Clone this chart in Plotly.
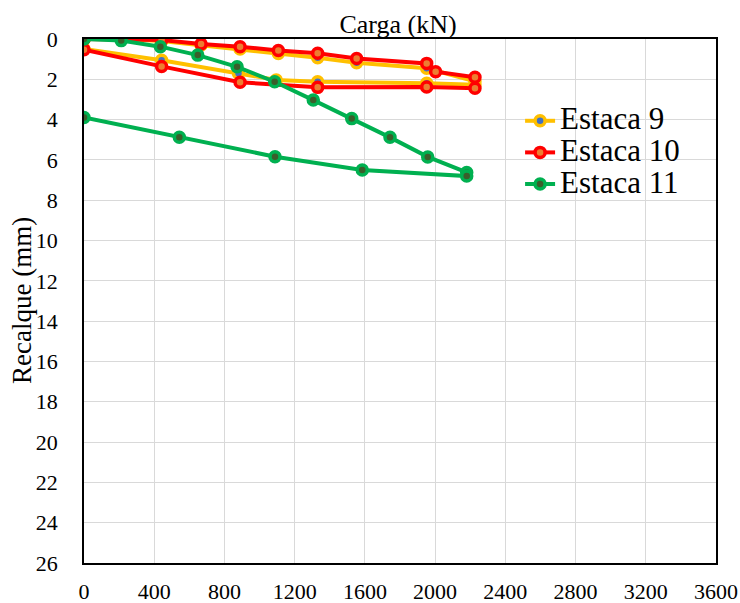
import plotly.graph_objects as go

# Estaca 9
carga_9 = [0, 215, 442, 667, 889, 1107, 1331, 1553, 1952, 2227, 2227, 1952, 1331, 1095, 880, 442, 0]
recalque_9 = [0, 0, 0.1, 0.3, 0.5, 0.72, 0.93, 1.18, 1.45, 2.1, 2.27, 2.2, 2.12, 2.03, 1.7, 1.05, 0.5]

# Estaca 10
carga_10 = [0, 442, 667, 889, 1107, 1331, 1553, 1952, 2003, 2227, 2227, 1952, 1331, 889, 442, 0]
recalque_10 = [0, 0.05, 0.25, 0.38, 0.57, 0.71, 0.97, 1.21, 1.62, 1.9, 2.44, 2.38, 2.4, 2.15, 1.36, 0.53]

# Estaca 11
carga_11 = [0, 212, 435, 648, 872, 1086, 1306, 1525, 1743, 1958, 2180, 2180, 1585, 1088, 543, 0]
recalque_11 = [0, 0.08, 0.38, 0.8, 1.38, 2.12, 3.03, 3.95, 4.88, 5.85, 6.62, 6.8, 6.5, 5.84, 4.88, 3.89]

series_names = ["Estaca 9", "Estaca 10", "Estaca 11"]
x_ticks = [0, 400, 800, 1200, 1600, 2000, 2400, 2800, 3200, 3600]
y_ticks = list(range(0, 27, 2))

FONT = "Liberation Serif, Times New Roman, serif"

styles = [
    dict(line="#FFC000", fill="#4472C4"),
    dict(line="#FF0000", fill="#ED7D31"),
    dict(line="#00B050", fill="#3B5E2B"),
]

fig = go.Figure()
for name, xs, ys, st in zip(series_names,
                            [carga_9, carga_10, carga_11],
                            [recalque_9, recalque_10, recalque_11],
                            styles):
    fig.add_trace(go.Scatter(
        x=xs, y=ys, name='<span style="font-size:31px">' + name + '</span>',
        mode="lines+markers",
        line=dict(color=st["line"], width=4),
        marker=dict(size=10, color=st["fill"], line=dict(color=st["line"], width=3.5)),
    ))

fig.update_layout(
    width=740, height=603,
    margin=dict(l=84, r=24, t=39, b=40),
    paper_bgcolor="white", plot_bgcolor="white",
    font=dict(family=FONT, color="black"),
    title=dict(text="Carga (kN)", x=398 / 740, xref="container", xanchor="center",
               y=1 - 24 / 603, yanchor="middle",
               font=dict(size=26, family=FONT, color="black")),
    legend=dict(x=0.69, y=0.8836, xanchor="left", yanchor="top",
                bgcolor="rgba(0,0,0,0)", font=dict(size=22, family=FONT),
                itemwidth=30, tracegroupgap=0),
    showlegend=True,
    annotations=[dict(text="Recalque (mm)", textangle=-90, xref="paper", yref="paper",
                      x=(22 - 84) / 632, y=(563 - 301) / 524, xanchor="center", yanchor="middle",
                      showarrow=False, font=dict(size=27, family=FONT, color="black"))],
)
fig.update_xaxes(range=[0, 3600], tickvals=x_ticks, ticktext=[str(v) for v in x_ticks],
                 showgrid=True, gridcolor="#D9D9D9", gridwidth=1,
                 showline=True, linecolor="black", linewidth=1.5, mirror=True,
                 ticks="", tickfont=dict(size=22, family=FONT), ticklabelstandoff=8,
                 zeroline=False, automargin=False)
fig.update_yaxes(range=[26, 0], tickvals=y_ticks, ticktext=[str(v) for v in y_ticks],
                 showgrid=True, gridcolor="#D9D9D9", gridwidth=1,
                 showline=True, linecolor="black", linewidth=1.5, mirror=True,
                 ticks="", tickfont=dict(size=22, family=FONT), ticklabelstandoff=20,
                 zeroline=False, automargin=False)

fig.write_html("out.html", config={"displayModeBar": False},
               post_script="document.body.style.margin='0';document.body.style.overflow='hidden';")
